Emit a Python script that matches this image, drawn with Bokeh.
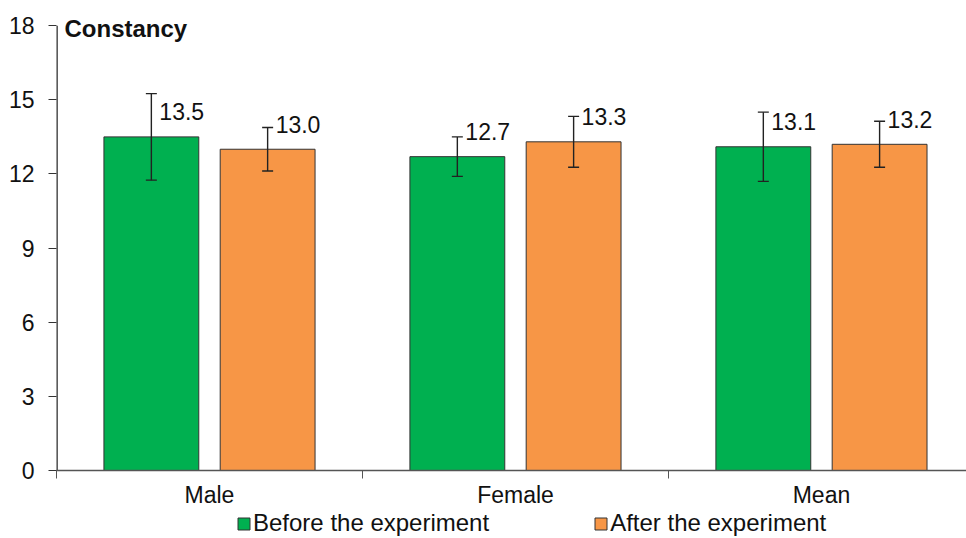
from bokeh.plotting import figure
from bokeh.layouts import column
from bokeh.models import (ColumnDataSource, Range1d, FixedTicker, Whisker, TeeHead,
                          Legend, LegendItem, Label)
from bokeh.core.properties import value
from bokeh.embed import file_html
from bokeh.resources import INLINE

categories = ["Male", "Female", "Mean"]
before = [13.5, 12.7, 13.1]
after = [13.0, 13.3, 13.2]
before_err = [1.75, 0.8, 1.4]
after_err = [0.88, 1.03, 0.93]
y_ticks = [0, 3, 6, 9, 12, 15, 18]
series_names = ["Before the experiment", "After the experiment"]

FONT = "Liberation Sans"
GREEN = "#00B050"
ORANGE = "#F79646"

p = figure(width=966, height=510, output_backend="svg", toolbar_location=None,
           x_range=Range1d(0, 2.974), y_range=Range1d(0, 18.25),
           min_border_left=56, min_border_right=0, min_border_top=19, min_border_bottom=38)
p.outline_line_color = None
p.grid.grid_line_color = None
p.background_fill_color = "white"

centers = [i + 0.5 for i in range(len(categories))]
off = 0.19
bw = 0.31
xb = [c - off for c in centers]
xa = [c + off for c in centers]

src_b = ColumnDataSource(dict(x=xb, top=before, lo=[v - e for v, e in zip(before, before_err)],
                              hi=[v + e for v, e in zip(before, before_err)],
                              lab=[f"{v:.1f}" for v in before]))
src_a = ColumnDataSource(dict(x=xa, top=after, lo=[v - e for v, e in zip(after, after_err)],
                              hi=[v + e for v, e in zip(after, after_err)],
                              lab=[f"{v:.1f}" for v in after]))

p.vbar(x="x", top="top", width=bw, source=src_b, fill_color=GREEN, line_color="#333333", line_width=1)
p.vbar(x="x", top="top", width=bw, source=src_a, fill_color=ORANGE, line_color="#333333", line_width=1)

for s in (src_b, src_a):
    w = Whisker(base="x", lower="lo", upper="hi", source=s, line_color="#222222", line_width=1.4,
                upper_head=TeeHead(size=11, line_color="#222222", line_width=1.4),
                lower_head=TeeHead(size=11, line_color="#222222", line_width=1.4),
                level="overlay")
    p.add_layout(w)
    p.text(x="x", y="top", text="lab", source=s, x_offset=8, y_offset=-25,
           text_align="left", text_baseline="middle", text_font=value(FONT),
           text_font_size="23px", text_color="#111111")

# y axis line only from first to last tick
p.segment(x0=[0], y0=[y_ticks[0]], x1=[0], y1=[y_ticks[-1]], line_color="#333333", line_width=2.6)

# axes
p.xaxis.ticker = FixedTicker(ticks=centers, minor_ticks=[0, 1, 2, 3])
p.xaxis.major_label_overrides = {c: n for c, n in zip(centers, categories)}
p.xaxis.major_tick_out = 0
p.xaxis.major_tick_in = 0
p.xaxis.minor_tick_out = 8
p.xaxis.minor_tick_in = 0
p.xaxis.minor_tick_line_color = "#555555"
p.xaxis.axis_line_color = "#555555"
p.xaxis.axis_line_width = 1.3
p.xaxis.major_label_text_font = FONT
p.xaxis.major_label_text_font_size = "23px"
p.xaxis.major_label_text_color = "#111111"
p.xaxis.major_label_standoff = 3

p.yaxis.ticker = FixedTicker(ticks=y_ticks)
p.yaxis.minor_tick_line_color = None
p.yaxis.major_tick_out = 8
p.yaxis.major_tick_in = 0
p.yaxis.major_tick_line_color = "#333333"
p.yaxis.axis_line_color = None
p.yaxis.major_label_text_font = FONT
p.yaxis.major_label_text_font_size = "23px"
p.yaxis.major_label_text_color = "#111111"
p.yaxis.major_label_standoff = 14

p.add_layout(Label(x=0, y=18, x_offset=8, y_offset=-3, text="Constancy", text_font=FONT,
                   text_font_size="24px", text_font_style="bold", text_baseline="middle",
                   text_color="#111111"))

# legend strip below the chart
p2 = figure(width=966, height=28, output_backend="svg", toolbar_location=None,
            x_range=Range1d(0, 1), y_range=Range1d(0, 1),
            x_axis_location=None, y_axis_location=None,
            min_border_left=0, min_border_right=0, min_border_top=0, min_border_bottom=0)
p2.outline_line_color = None
p2.grid.grid_line_color = None
dummy = ColumnDataSource(dict(x=[-5], top=[0]))
lb = p2.vbar(x="x", top="top", width=0.1, source=dummy, fill_color=GREEN, line_color="#333333", line_width=1)
la = p2.vbar(x="x", top="top", width=0.1, source=dummy, fill_color=ORANGE, line_color="#333333", line_width=1)
legend = Legend(items=[LegendItem(label=series_names[0], renderers=[lb]),
                       LegendItem(label=series_names[1], renderers=[la])],
                orientation="horizontal", location=(180, 1), spacing=104,
                glyph_width=15, glyph_height=15, label_standoff=2, label_height=24,
                label_text_font=FONT, label_text_font_size="24px", label_text_color="#111111",
                border_line_color=None, background_fill_alpha=0, padding=0, margin=0)
p2.add_layout(legend, "center")

open("out.html", "w").write(file_html(column(p, p2, spacing=0), INLINE))
